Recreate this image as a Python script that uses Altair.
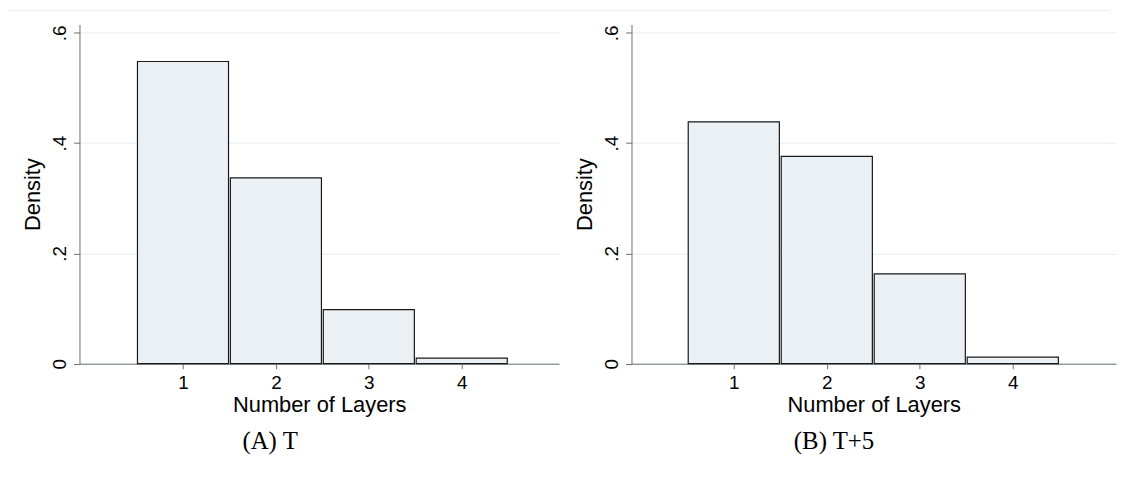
import altair as alt
import pandas as pd

layers = [1, 2, 3, 4]
density_t = [0.548, 0.337, 0.098, 0.010]
density_t5 = [0.4385, 0.376, 0.163, 0.012]
y_ticks = [0, 0.2, 0.4, 0.6]
x_ticks = [1, 2, 3, 4]
captions = ["(A) T", "(B) T+5"]
x_title = "Number of Layers"
y_title = "Density"

SANS = "Liberation Sans"
SERIF = "Liberation Serif"
AXIS_GRAY = "#6e6e6e"
GRID = "#e4eef0"
FILL = "#eaf0f4"


def panel(vals, xdom, width, caption, cap_x, add_top_rule=False):
    df = pd.DataFrame({"layer": layers, "density": vals})
    df["lo"] = df["layer"] - 0.49
    df["hi"] = df["layer"] + 0.49
    xs = alt.Scale(domain=xdom, nice=False, zero=False)
    ys = alt.Scale(domain=[0, 0.615], nice=False, zero=True)
    bars = alt.Chart(df).mark_rect(
        fill=FILL, stroke="#1a1a1a", strokeWidth=1.2
    ).encode(
        x=alt.X("lo:Q", scale=xs, axis=alt.Axis(
            values=x_ticks, title=x_title, grid=False,
            labelFont=SANS, labelFontSize=19, labelColor="black",
            labelBaseline="top", labelPadding=5, tickSize=5,
            tickColor=AXIS_GRAY, domainColor=AXIS_GRAY,
            titleFont=SANS, titleFontSize=22, titleFontWeight="normal",
            titleColor="black", titleBaseline="alphabetic", titleY=48.5,
        )),
        x2="hi:Q",
        y=alt.Y("density:Q", scale=ys, axis=alt.Axis(
            values=y_ticks, title=y_title, grid=True, gridColor=GRID,
            labelExpr="datum.value == 0 ? '0' : replace(format(datum.value, '.1f'), '0.', '.')",
            labelFont=SANS, labelFontSize=19, labelColor="black",
            labelAngle=-90, labelAlign="center", labelBaseline="alphabetic",
            labelPadding=8, tickSize=6, tickColor=AXIS_GRAY,
            domainColor=AXIS_GRAY,
            titleFont=SANS, titleFontSize=22, titleFontWeight="normal",
            titleColor="black", titleAngle=-90, titleBaseline="alphabetic",
            titleX=-40, titleAlign="center",
        )),
        y2=alt.datum(0),
    )
    cap = alt.Chart(pd.DataFrame({"t": [caption]})).mark_text(
        font=SERIF, fontSize=25, color="black", align="center", baseline="middle"
    ).encode(text="t:N", x=alt.value(cap_x), y=alt.value(420))
    layers_list = [bars, cap]
    if add_top_rule:
        rule = alt.Chart(pd.DataFrame({"a": [0]})).mark_rule(
            color="#e6eef0", strokeWidth=1
        ).encode(x=alt.value(-71), x2=alt.value(1038), y=alt.value(-14))
        layers_list.append(rule)
    return alt.layer(*layers_list).properties(width=width, height=341.6)


left = panel(density_t, [-0.114, 5.047], 483, captions[0], 192, add_top_rule=True)
right = panel(density_t5, [-0.10, 5.11], 488, captions[1], 204)

chart = alt.hconcat(left, right, spacing=73, bounds="flush").properties(
    padding={"left": 0, "top": 0, "right": 0, "bottom": 10},
    background="white",
).configure_view(stroke="#ffffff", strokeWidth=1)

chart.save("out.html", embed_options={"renderer": "svg", "actions": False})
